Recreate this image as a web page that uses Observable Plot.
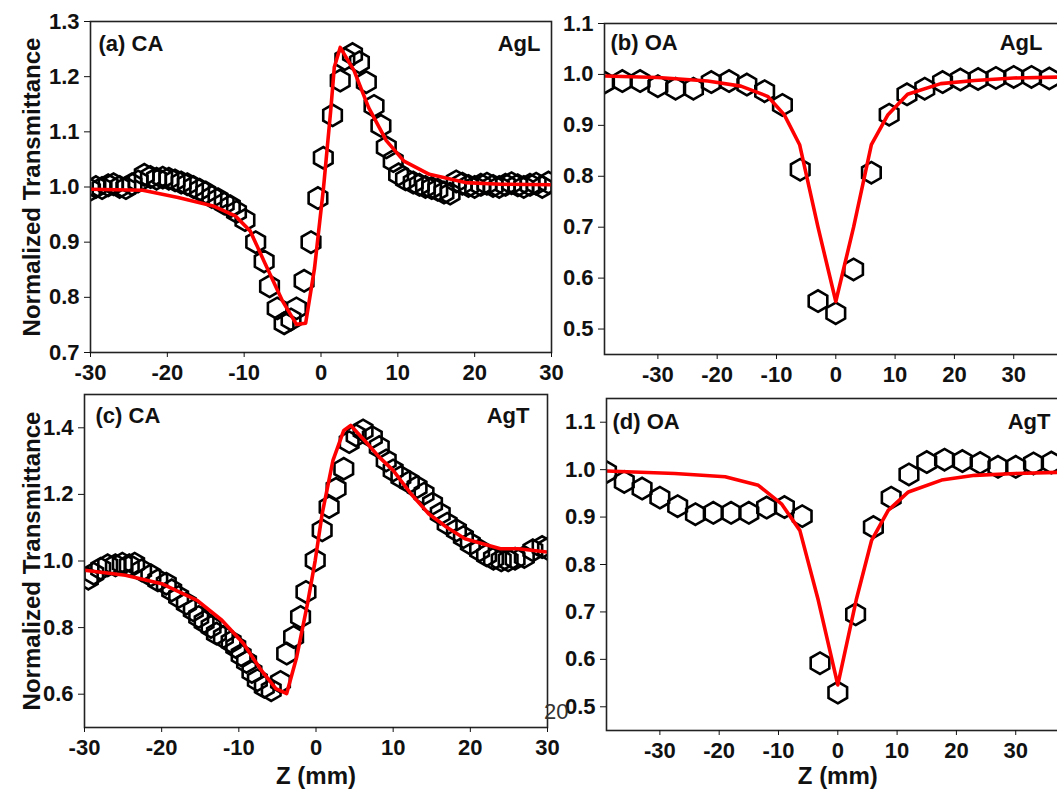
<!DOCTYPE html>
<html>
<head>
<meta charset="utf-8">
<script src="https://cdn.jsdelivr.net/npm/d3@7"></script>
<script src="https://cdn.jsdelivr.net/npm/@observablehq/plot@0.6"></script>
<style>
html, body { margin: 0; padding: 0; background: #fff; overflow: hidden; }
#wrap { position: relative; width: 1057px; height: 789px; overflow: hidden; background: #fff; }
.panel { position: absolute; }
#stray { position: absolute; left: 544px; top: 701px; font: 22px "Liberation Sans", Arial, sans-serif; line-height: 22px; color: #333; }
</style>
</head>
<body>
<div id="wrap"></div>
<script>
// ---------- data ----------
const xTicks = [-30, -20, -10, 0, 10, 20, 30];

// (a) CA, AgL
const aZ = [-30, -29.3, -28.5, -27.7, -27, -26.2, -25.4, -24.6, -23.8, -23, -22.2, -21.4, -20.6, -19.8, -19, -18.2, -17.4, -16.6, -15.8, -15, -14.2, -13.4, -12.6, -11.8, -11, -9.9, -8.5, -7.4, -6.7, -5.7, -4.8, -3.9, -3.2, -2.2, -1.3, -0.4, 0.3, 1.5, 2.5, 3.1, 4.1, 5.0, 5.9, 6.9, 7.8, 8.5, 9.4, 10.1, 11, 12, 12.8, 13.6, 14.4, 15.2, 16, 16.8, 17.6, 18.4, 19.2, 20, 20.8, 21.6, 22.4, 23.2, 24, 24.8, 25.6, 26.4, 27.2, 28, 28.8, 29.6];
const aT = [0.995, 1.0, 0.998, 1.003, 1.005, 1.0, 0.998, 1.005, 1.01, 1.022, 1.018, 1.015, 1.017, 1.015, 1.012, 1.008, 1.005, 1.0, 0.995, 0.99, 0.982, 0.978, 0.97, 0.965, 0.955, 0.94, 0.90, 0.865, 0.82, 0.78, 0.753, 0.76, 0.78, 0.83, 0.90, 0.98, 1.053, 1.13, 1.193, 1.232, 1.241, 1.226, 1.19, 1.147, 1.111, 1.072, 1.047, 1.023, 1.014, 1.008, 1.004, 1.0, 0.998, 0.995, 0.99, 0.988, 1.01, 1.006, 1.002, 1.0, 1.004, 1.006, 1.002, 1.0, 1.004, 1.007, 1.003, 1.0, 1.004, 1.006, 1.0, 1.008];
const aFitZ = [-30, -23.2, -18.6, -13.9, -11.1, -9.2, -7.4, -5.0, -3.2, -2.0, -0.84, 0.33, 1.26, 1.73, 2.5, 4.3, 6.2, 8.5, 10.8, 14.1, 18.8, 23.4, 30];
const aFitT = [0.996, 0.994, 0.981, 0.965, 0.947, 0.92, 0.865, 0.793, 0.751, 0.753, 0.853, 0.999, 1.138, 1.217, 1.253, 1.211, 1.144, 1.084, 1.047, 1.023, 1.008, 1.005, 1.004];

// (b) OA, AgL
const oaZ = [-39, -36, -33, -30, -27, -24, -21, -18, -15, -12, -9, -6, -3, 0, 3, 6, 9, 12, 15, 18, 21, 24, 27, 30, 33, 36];
const bT = [0.984, 0.987, 0.987, 0.977, 0.972, 0.972, 0.985, 0.987, 0.98, 0.967, 0.94, 0.813, 0.555, 0.531, 0.617, 0.807, 0.921, 0.961, 0.972, 0.985, 0.99, 0.991, 0.993, 0.995, 0.995, 0.992];
const bFitZ = [-39, -30, -21.6, -16, -11.5, -8.7, -6.1, -3, 0, 3, 6, 8.8, 12.1, 17.7, 23.4, 30, 39];
const bFitT = [0.997, 0.994, 0.987, 0.977, 0.957, 0.921, 0.862, 0.70, 0.554, 0.70, 0.862, 0.921, 0.961, 0.982, 0.988, 0.993, 0.995];

// (c) CA, AgT
const cZ = [-29.5, -28.8, -27.9, -27, -26, -25.1, -24.2, -23.5, -22.6, -21.4, -20.5, -19.4, -18.7, -17.8, -16.8, -15.9, -15.2, -14.5, -13.6, -12.9, -12, -11, -10.4, -9.7, -9, -8.3, -7.6, -6.7, -5.8, -4.6, -3.8, -2.9, -2, -1.3, -0.1, 0.8, 1.7, 2.6, 3.6, 4.3, 5.2, 6.1, 7.3, 8.2, 9.1, 10, 11, 12.1, 13.1, 14, 15.1, 16.1, 17, 18.2, 19.1, 20, 21.2, 22.1, 23, 24, 24.9, 25.8, 27, 28.1, 29.3, 30];
const cT = [0.947, 0.962, 0.977, 0.987, 0.987, 0.992, 0.987, 0.992, 0.972, 0.957, 0.942, 0.932, 0.912, 0.892, 0.872, 0.852, 0.832, 0.817, 0.802, 0.782, 0.772, 0.757, 0.742, 0.717, 0.697, 0.667, 0.642, 0.622, 0.612, 0.637, 0.722, 0.772, 0.832, 0.907, 1.002, 1.092, 1.162, 1.217, 1.277, 1.357, 1.377, 1.392, 1.372, 1.342, 1.302, 1.272, 1.252, 1.237, 1.222, 1.202, 1.172, 1.142, 1.112, 1.092, 1.072, 1.052, 1.032, 1.017, 1.007, 1.002, 1.002, 1.007, 1.012, 1.032, 1.042, 1.037];
const cFitZ = [-30, -24.7, -20, -15.4, -12.2, -9.4, -7.1, -5.2, -3.8, -2.5, -1.1, -0.1, 0.8, 2.2, 3.6, 4.5, 6.3, 8.2, 10, 12.3, 14.6, 16.9, 19.3, 21.6, 23.9, 26.2, 30];
const cFitT = [0.972, 0.957, 0.932, 0.882, 0.822, 0.752, 0.672, 0.617, 0.602, 0.712, 0.872, 1.002, 1.142, 1.302, 1.392, 1.407, 1.362, 1.312, 1.272, 1.202, 1.142, 1.102, 1.067, 1.052, 1.037, 1.037, 1.027];

// (d) OA, AgT
const dT = [0.995, 0.974, 0.96, 0.941, 0.923, 0.906, 0.909, 0.909, 0.909, 0.92, 0.921, 0.902, 0.592, 0.53, 0.695, 0.879, 0.941, 0.99, 1.016, 1.021, 1.018, 1.014, 1.006, 1.006, 1.013, 1.015];
const dFitZ = [-39, -27.5, -19, -13.4, -9.5, -6.4, -3.3, 0, 3.1, 5.7, 8.5, 11.9, 17.5, 23.1, 30, 39];
const dFitT = [0.997, 0.992, 0.985, 0.967, 0.928, 0.872, 0.725, 0.546, 0.725, 0.851, 0.914, 0.953, 0.978, 0.988, 0.992, 0.995];

// ---------- drawing ----------
const FONT = '"Liberation Sans", Arial, Helvetica, sans-serif';
const wrap = document.getElementById("wrap");

function panel(c) {
  const pts = c.z.map((z, i) => ({z, t: c.t[i]}));
  const fit = c.fz.map((z, i) => ({z, t: c.ft[i]}));
  const chart = Plot.plot({
    width: c.w, height: c.h,
    marginLeft: c.ml, marginTop: c.mt, marginRight: c.mr, marginBottom: c.mb,
    style: {background: "transparent", fontFamily: FONT, fontSize: "22px", fontWeight: "bold", color: "#111", overflow: "visible"},
    x: {domain: c.xd},
    y: {domain: c.yd},
    marks: [
      Plot.dot(pts, {x: "z", y: "t", r: 9.3, symbol: "hexagon", stroke: "#000", strokeWidth: 2.6, fill: "none", clip: true}),
      Plot.line(fit, {x: "z", y: "t", stroke: "#f00", strokeWidth: 3.6, clip: true}),
      Plot.frame({stroke: "#222", strokeWidth: 1.6}),
      Plot.axisX({ticks: xTicks, tickSize: 5, tickPadding: 7, tickFormat: d => String(d), fontSize: 22,
        label: c.xl || null, labelAnchor: "center", labelOffset: c.xlo || 0, labelArrow: "none"}),
      Plot.axisY({ticks: c.yt, tickSize: 6, tickPadding: 5, tickFormat: d3.format(".1f"), fontSize: 22,
        label: c.yl || null, labelAnchor: "center", labelOffset: c.ylo || 0, labelArrow: "none"}),
      Plot.text([c.tag], {text: d => d, frameAnchor: "top-left", textAnchor: "start", lineAnchor: "top", dx: c.tdx, dy: c.tdy, fontSize: 22, fontWeight: "bold"}),
      Plot.text([c.sample], {text: d => d, frameAnchor: "top-right", textAnchor: "end", lineAnchor: "top", dx: c.sdx, dy: c.tdy, fontSize: 22, fontWeight: "bold"})
    ]
  });
  chart.querySelectorAll('[aria-label="x-axis tick label"], [aria-label="y-axis tick label"]').forEach(g => {
    g.setAttribute("font-size", "22");
    g.querySelectorAll("text").forEach(t => { t.style.fontSize = "22px"; t.style.fontWeight = "bold"; });
  });
  chart.querySelectorAll('[aria-label="y-axis label"], [aria-label="x-axis label"]').forEach(g => {
    g.setAttribute("font-size", "24");
    g.querySelectorAll("text").forEach(t => { t.style.fontSize = "24px"; });
  });
  const div = document.createElement("div");
  div.className = "panel";
  div.style.left = c.left + "px";
  div.style.top = c.top + "px";
  div.style.width = c.w + "px";
  div.appendChild(chart);
  wrap.appendChild(div);
}

panel({left: 0, top: 0, w: 570, h: 390, ml: 90, mt: 21, mr: 19, mb: 38,
  xd: [-30, 30], yd: [0.7, 1.3], yt: [0.7, 0.8, 0.9, 1.0, 1.1, 1.2, 1.3],
  z: aZ, t: aT, fz: aFitZ, ft: aFitT, yl: "Normalized Transmittance", ylo: 68,
  tag: "(a) CA", sample: "AgL", tdx: 8, tdy: 14, sdx: -11});

panel({left: 540, top: 0, w: 540, h: 390, ml: 64, mt: 23, mr: 13.4, mb: 36,
  xd: [-39, 39], yd: [0.45, 1.1], yt: [0.5, 0.6, 0.7, 0.8, 0.9, 1.0, 1.1],
  z: oaZ, t: bT, fz: bFitZ, ft: bFitT,
  tag: "(b) OA", sample: "AgL", tdx: 6, tdy: 11, sdx: -24.6});

panel({left: 0, top: 380, w: 570, h: 409, ml: 84, mt: 14, mr: 23, mb: 62,
  xd: [-30, 30], yd: [0.5, 1.5], yt: [0.6, 0.8, 1.0, 1.2, 1.4],
  z: cZ, t: cT, fz: cFitZ, ft: cFitT, yl: "Normalized Transmittance", ylo: 62, xl: "Z (mm)", xlo: 56,
  tag: "(c) CA", sample: "AgT", tdx: 11, tdy: 13, sdx: -18});

panel({left: 540, top: 380, w: 540, h: 409, ml: 66, mt: 18, mr: 11.4, mb: 59,
  xd: [-39, 39], yd: [0.45, 1.15], yt: [0.5, 0.6, 0.7, 0.8, 0.9, 1.0, 1.1],
  z: oaZ, t: dT, fz: dFitZ, ft: dFitT, xl: "Z (mm)", xlo: 53,
  tag: "(d) OA", sample: "AgT", tdx: 6, tdy: 15, sdx: -18.6});

const stray = document.createElement("div");
stray.id = "stray";
stray.textContent = "20";
wrap.appendChild(stray);
</script>
</body>
</html>
